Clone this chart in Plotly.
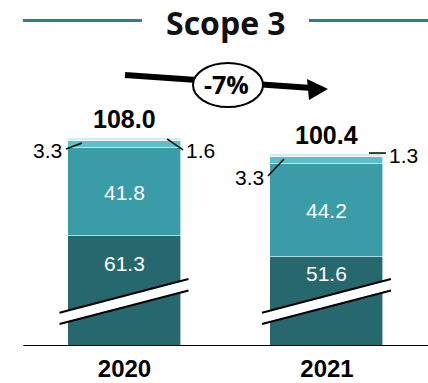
import plotly.graph_objects as go

# ---- data -------------------------------------------------------------
years = ["2020", "2021"]
base_vals = [61.3, 51.6]      # largest component
mid_vals = [41.8, 44.2]       # second component
upper_vals = [3.3, 3.3]       # third component
top_vals = [1.6, 1.3]         # smallest component
change_label = "-7%"
title_text = "Scope 3"

totals = [round(a + b + c + d, 1) for a, b, c, d in zip(base_vals, mid_vals, upper_vals, top_vals)]

# ---- layout constants ---------------------------------------------------
W, H = 428, 383
MARGIN_B = 37
PLOT_H = H - MARGIN_B
Y_MIN = 9.0                    # truncated axis start (axis is broken)
PX_PER_UNIT = 2.1
Y_MAX = Y_MIN + PLOT_H / PX_PER_UNIT
X_RANGE = [-0.615, 1.499]
BAR_W = 0.558

C_BASE = "#26686D"
C_MID = "#3A9CA7"
C_UPPER = "#5CC0CA"
C_TOP = "#D3EDF0"
C_RULE = "#2E7F87"

NUM_FONT = "Liberation Sans, Arial, sans-serif"
HEAD_FONT = "Open Sans, Noto Sans, sans-serif"


def px(x):
    return x / W


def py(y):
    return (PLOT_H - y) / PLOT_H


xs = list(range(len(years)))

fig = go.Figure()
for vals, col in [(base_vals, C_BASE), (mid_vals, C_MID), (upper_vals, C_UPPER), (top_vals, C_TOP)]:
    fig.add_trace(go.Bar(
        x=xs, y=vals, width=BAR_W, marker=dict(color=col, line=dict(color="white", width=0.6)),
        hoverinfo="skip", showlegend=False,
    ))

shapes = []
annotations = []


def label(**kw):
    kw.setdefault("showarrow", False)
    kw.setdefault("xanchor", "center")
    kw.setdefault("yanchor", "middle")
    annotations.append(kw)


# baseline
shapes.append(dict(type="line", xref="x", yref="y", x0=-0.5, x1=1.5, y0=Y_MIN, y1=Y_MIN,
                   line=dict(color="black", width=2)))

for i in xs:
    b, m = base_vals[i], mid_vals[i]
    # axis-break marks across the base segment
    shapes.append(dict(type="path", xref="x", yref="y", xsizemode="pixel", ysizemode="pixel",
                       xanchor=i, yanchor=Y_MIN,
                       path="M -65,33 L 64,67 L 64,55 L -65,22 Z",
                       fillcolor="white", line=dict(width=0)))
    for y0, y1 in [(33.3, 67), (22, 55.5)]:
        shapes.append(dict(type="line", xref="x", yref="y", xsizemode="pixel", ysizemode="pixel",
                           xanchor=i, yanchor=Y_MIN, x0=-65, x1=64, y0=y0, y1=y1,
                           line=dict(color="black", width=2)))

    # white labels inside the two big segments
    label(x=i, y=(b + Y_MIN) / 2, yshift=28, text=f"{b:.1f}",
          font=dict(family=NUM_FONT, size=21, color="white"))
    label(x=i, y=b + m / 2, text=f"{m:.1f}",
          font=dict(family=NUM_FONT, size=21, color="white"))
    # totals
    label(x=i, y=totals[i], yshift=19, text=f"<b>{totals[i]:.1f}</b>",
          font=dict(family=NUM_FONT, size=25, color="black"))

# small-segment callouts: (bar, segment centre, value, leader line, label offset)
upper_c = [base_vals[i] + mid_vals[i] + upper_vals[i] / 2 for i in xs]
top_c = [totals[i] - top_vals[i] / 2 for i in xs]
callouts = [
    (0, upper_c[0], upper_vals[0], (-58.5, -4, -42.5, 2), (-77, -6)),
    (0, top_c[0], top_vals[0], (42.5, 1, 58.5, -10), (76, -11)),
    (1, upper_c[1], upper_vals[1], (-59, -15.7, -43, 1.3), (-77.5, -17.7)),
    (1, top_c[1], top_vals[1], (42, 2.4, 59, 2.4), (76.5, 0.4)),
]
for i, yc, v, (lx0, ly0, lx1, ly1), (tx, ty) in callouts:
    shapes.append(dict(type="line", xref="x", yref="y", xsizemode="pixel", ysizemode="pixel",
                       xanchor=i, yanchor=yc, x0=lx0, x1=lx1, y0=ly0, y1=ly1,
                       line=dict(color="black", width=1.5)))
    label(x=i, y=yc, xshift=tx, yshift=ty, text=f"{v:.1f}",
          font=dict(family=NUM_FONT, size=21, color="black"))

# heading with side rules
shapes.append(dict(type="line", xref="paper", yref="paper", x0=px(23), x1=px(142), y0=py(20.5), y1=py(20.5),
                   line=dict(color=C_RULE, width=3)))
shapes.append(dict(type="line", xref="paper", yref="paper", x0=px(309), x1=px(428), y0=py(20.5), y1=py(20.5),
                   line=dict(color=C_RULE, width=3)))
label(xref="paper", yref="paper", x=px(226), y=py(22), text=f"<b>{title_text}</b>",
      font=dict(family=HEAD_FONT, size=32, color="#111111"))

# change arrow with badge
shapes.append(dict(type="line", xref="paper", yref="paper", x0=px(125), y0=py(75), x1=px(312), y1=py(88),
                   line=dict(color="black", width=6)))
shapes.append(dict(type="path", xref="paper", yref="paper",
                   path=f"M {px(307)},{py(79)} L {px(328)},{py(89)} L {px(309)},{py(100)} Z",
                   fillcolor="black", line=dict(width=0)))
shapes.append(dict(type="circle", xref="paper", yref="paper", x0=px(193), x1=px(263), y0=py(107), y1=py(63),
                   fillcolor="white", line=dict(color="black", width=2)))
label(xref="paper", yref="paper", x=px(226), y=py(84), text=f"<b>{change_label}</b>",
      font=dict(family=HEAD_FONT, size=25, color="black"))

fig.update_layout(
    width=W, height=H,
    margin=dict(l=0, r=0, t=0, b=MARGIN_B, autoexpand=False),
    barmode="stack", bargap=0,
    plot_bgcolor="white", paper_bgcolor="white",
    shapes=shapes, annotations=annotations,
    xaxis=dict(range=X_RANGE, tickvals=xs, ticktext=[f"<b>{y}</b>" for y in years],
               tickfont=dict(family=NUM_FONT, size=24, color="black"), ticklabelstandoff=6,
               automargin=False,
               showgrid=False, zeroline=False, showline=False, ticks="", fixedrange=True),
    yaxis=dict(range=[Y_MIN, Y_MAX], visible=False, fixedrange=True, automargin=False),
)

fig.write_html("out.html")
